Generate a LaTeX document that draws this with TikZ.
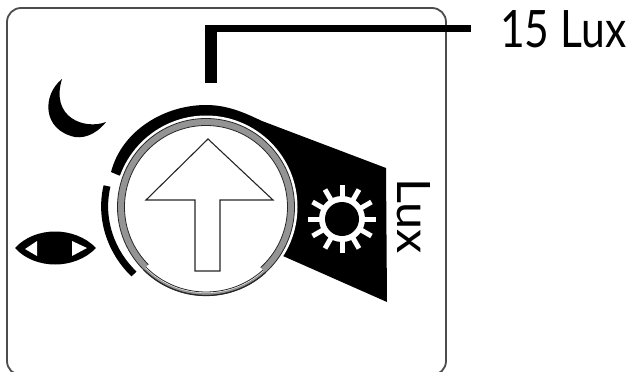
\documentclass[tikz,border=0pt]{standalone}
\usepackage{graphicx}
\usepackage{fontspec}
\setmainfont{Lato}
\tikzset{
  frame/.style={draw=black!70,line width=1.8pt,rounded corners=14pt},
  leader/.style={draw=black},
  thinring/.style={draw=black!85,line width=0.8pt},
  arrowshape/.style={draw=black!85,line width=1.1pt,fill=white,line join=miter},
  sunray/.style={draw=white,line width=5pt},
  lab/.style={inner sep=0pt,font=\fontsize{50}{50}\selectfont}
}
\begin{document}
\begin{tikzpicture}[x=1pt,y=-1pt]
\useasboundingbox (0,0) rectangle (635,372);
\fill[white] (0,0) rectangle (635,372);
\coordinate (c) at (206,207);
\draw[frame] (7,8) rectangle (446,375);
% leader
\coordinate (lfoot) at (211,83);
\coordinate (lend) at (471,28.5);
\draw[leader,line width=12pt] (lfoot) -- (211,25);
\draw[leader,line width=7.5pt] (205,28.5) -- (lend);
% black wedge
\fill[black] (111,172) .. controls (122,130) and (165,105) .. (206,105)
  .. controls (228,105) and (245,113) .. (262,121)
  -- (386,168) -- (387,302) -- (283,256) -- (c) -- (118,175) -- cycle;
\fill[white] (c) circle[radius=91.5];
% lower arc
\draw[black,line width=7pt] (107,186) .. controls (99,220) and (112,253) .. (134,274);
% ring
\fill[black!42] (c) circle[radius=88.5];
\fill[white] (c) circle[radius=81.5];
\draw[thinring] (c) circle[radius=88.5];
\draw[thinring] (c) circle[radius=81.5];
\fill[white] (c) -- ++(135:86) arc[start angle=135,end angle=48,radius=86] -- cycle;
\draw[thinring] (c) ++(135:85) arc[start angle=135,end angle=48,radius=85];
\draw[thinring,line width=1.2pt] (c) ++(135:88.5) arc[start angle=135,end angle=48,radius=88.5];
% big arrow
\draw[arrowshape] (208,139) -- (273,200) -- (220,200) -- (220,271) -- (195,271) -- (195,200) -- (146,200) -- cycle;
% sun
\coordinate (s) at (342,219);
\foreach \a in {0,30,...,330}{\draw[sunray] (s) -- ++(\a:34);}
\fill[white] (s) circle[radius=23];
\fill[black] (s) circle[radius=17];
% moon
\fill[black] (62,79) .. controls (42,95) and (42,130) .. (75,137)
  .. controls (88,139) and (100,130) .. (106,122)
  .. controls (85,130) and (50,118) .. (62,79) -- cycle;
% eye
\fill[black] (15,248) .. controls (35,226) and (75,226) .. (96,248)
  .. controls (75,270) and (35,270) .. (15,248) -- cycle;
\fill[white] (37,241) -- (37,256) -- (25,249) -- cycle;
\fill[white] (72,241) -- (72,256) -- (87,248) -- cycle;
% labels
\node[lab,anchor=base west] (t15) at (500,47) {\resizebox{126pt}{37pt}{15 Lux}};
\node[lab,rotate=-90,anchor=base] (tlux) at (397,216) {\resizebox{75pt}{33pt}{Lux}};
\end{tikzpicture}
\end{document}
